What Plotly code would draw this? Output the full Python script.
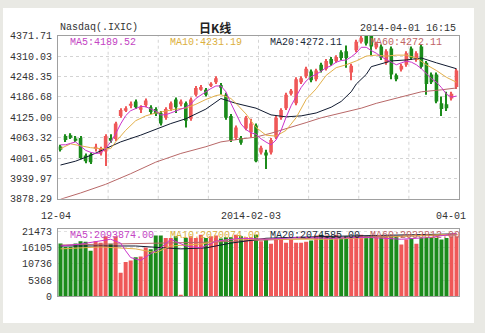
import plotly.graph_objects as go

# ---------------- data ----------------
opens = [4036.8, 4068.0, 4070.9, 4060.7, 4062.2, 4009.6, 4012.5, 4030.1, 4015.5, 4021.3,
         4062.2, 4059.3, 4129.3, 4146.9, 4161.5, 4173.1, 4149.8, 4161.5, 4155.6, 4149.8,
         4138.1, 4123.5, 4149.8, 4179.0, 4164.4, 4167.3, 4120.6, 4193.6, 4211.1, 4208.2,
         4222.8, 4231.5, 4222.8, 4193.6, 4129.3, 4062.2, 4062.2, 4091.4, 4079.7, 4100.1,
         4018.4, 4018.4, 4018.4, 4065.1, 4123.5, 4152.7, 4196.5, 4167.3, 4231.5, 4249.1,
         4263.7, 4240.3, 4284.1, 4272.4, 4301.6, 4295.8, 4322.1, 4325.0, 4260.8, 4327.9,
         4354.2, 4371.7, 4371.7, 4336.7, 4339.6, 4290.0, 4333.7, 4252.0, 4269.5, 4284.1,
         4333.7, 4298.7, 4339.6, 4290.0, 4254.9, 4254.9, 4167.3, 4164.4, 4181.9, 4216.9]
closes = [4027.1, 4056.3, 4065.1, 4056.3, 4000.9, 3992.1, 3989.2, 4035.9, 4030.1, 4068.0,
          4056.3, 4106.0, 4146.9, 4152.7, 4165.8, 4155.6, 4155.6, 4176.1, 4141.0, 4135.2,
          4106.0, 4149.8, 4167.3, 4155.6, 4173.1, 4114.7, 4179.0, 4214.0, 4216.9, 4193.6,
          4225.7, 4243.2, 4216.9, 4123.5, 4056.3, 4094.3, 4047.6, 4123.5, 4106.0, 3992.1,
          4033.0, 4009.6, 4056.3, 4123.5, 4146.9, 4193.6, 4205.3, 4240.3, 4243.2, 4272.4,
          4237.4, 4266.6, 4266.6, 4295.8, 4287.0, 4307.5, 4304.6, 4304.6, 4281.2, 4354.2,
          4365.9, 4348.3, 4339.6, 4348.3, 4304.6, 4325.0, 4254.9, 4240.3, 4281.2, 4319.1,
          4304.6, 4319.1, 4278.3, 4225.7, 4231.5, 4173.1, 4149.8, 4152.7, 4196.5, 4266.6]
highs = [4041.7, 4073.9, 4076.8, 4068.0, 4068.0, 4015.5, 4018.4, 4044.7, 4035.9, 4073.9,
         4073.9, 4111.8, 4152.7, 4158.5, 4173.1, 4179.0, 4161.5, 4181.9, 4161.5, 4155.6,
         4143.9, 4155.6, 4173.1, 4184.8, 4179.0, 4173.1, 4184.8, 4219.9, 4222.8, 4214.0,
         4231.5, 4249.1, 4228.6, 4199.4, 4135.2, 4100.1, 4068.0, 4129.3, 4120.6, 4106.0,
         4038.8, 4027.1, 4062.2, 4129.3, 4152.7, 4199.4, 4211.1, 4246.2, 4249.1, 4278.3,
         4269.5, 4272.4, 4290.0, 4301.6, 4307.5, 4313.3, 4327.9, 4342.5, 4287.0, 4360.0,
         4371.7, 4377.0, 4377.0, 4354.2, 4345.4, 4330.8, 4339.6, 4257.8, 4287.0, 4325.0,
         4339.6, 4325.0, 4345.4, 4295.8, 4260.8, 4260.8, 4187.7, 4202.3, 4202.3, 4272.4]
lows = [4021.3, 4050.5, 4059.3, 4050.5, 3997.9, 3986.2, 3983.3, 4021.3, 4009.6, 3977.5,
        4047.6, 4053.4, 4123.5, 4141.0, 4152.7, 4149.8, 4138.1, 4155.6, 4135.2, 4129.3,
        4100.1, 4117.7, 4143.9, 4138.1, 4158.5, 4094.3, 4114.7, 4187.7, 4205.3, 4187.7,
        4216.9, 4225.7, 4193.6, 4117.7, 4050.5, 4056.3, 4041.7, 4085.5, 4065.1, 3989.2,
        4012.5, 3968.7, 4012.5, 4059.3, 4117.7, 4146.9, 4190.7, 4161.5, 4225.7, 4243.2,
        4231.5, 4234.5, 4260.8, 4266.6, 4281.2, 4290.0, 4298.7, 4275.4, 4237.4, 4322.1,
        4348.3, 4342.5, 4313.3, 4330.8, 4298.7, 4284.1, 4240.3, 4234.5, 4263.7, 4278.3,
        4298.7, 4292.9, 4272.4, 4193.6, 4225.7, 4167.3, 4129.3, 4143.9, 4176.1, 4211.1]
volumes = [17571, 16393, 16393, 17571, 18321, 18107, 15107, 18321, 17786, 19929,
           17464, 19929, 7821, 11357, 11893, 12964, 13179, 16179, 15643, 20250,
           20250, 19393, 19393, 19929, 214, 19393, 19929, 19393, 20464, 19393,
           19929, 20250, 19179, 19607, 19607, 20464, 19929, 19607, 19607, 20464,
           18321, 18857, 17464, 19393, 19393, 17786, 18857, 17786, 17786, 18107,
           18536, 20250, 20464, 20250, 19929, 20464, 19393, 19929, 19607, 19929,
           20464, 19929, 20250, 19929, 20250, 19929, 19929, 19929, 17250, 18857,
           19393, 17464, 19393, 19393, 19393, 19393, 18857, 19393, 19929, 19929]

# moving-average lines (candle index, value)
ma5_idx = list(range(80))
ma5_val = [4041.7, 4041.7, 4046, 4050.5, 4038, 4025, 4019, 4015.5, 4017, 4030,
           4050, 4075, 4105, 4130, 4145, 4152.7, 4158, 4157, 4150, 4143.9,
           4132, 4133, 4138.1, 4145, 4149.8, 4155, 4165, 4181.9, 4193, 4202.3,
           4212, 4219.9, 4219.9, 4202.3, 4167.3, 4135.2, 4105, 4088, 4078, 4073.9,
           4060, 4050, 4041.7, 4056.3, 4085, 4125, 4160, 4187.7, 4215, 4235,
           4248, 4254.9, 4265, 4275, 4281.2, 4292, 4297, 4298.7, 4308, 4320,
           4337, 4337, 4327, 4319.1, 4308, 4300, 4292, 4284.1, 4290, 4295,
           4292, 4284.1, 4272, 4258, 4242, 4231.5, 4215, 4195, 4186, 4189.5]
ma10_idx = [0, 2, 4, 6, 8, 10, 11, 13, 15, 17, 19, 21, 23, 25, 27, 29, 31, 32, 34, 35,
            37, 39, 41, 43, 45, 47, 49, 51, 53, 55, 57, 59, 61, 63, 65, 67, 69, 71, 73,
            75, 77, 79]
ma10_val = [4030.0, 4044.7, 4038.8, 4033.0, 4030.1, 4030.1, 4050.5, 4085.5, 4114.7, 4129.3,
            4138.1, 4143.9, 4149.8, 4152.7, 4164.4, 4179.0, 4190.7, 4193.6, 4181.9, 4167.3,
            4135.2, 4094.3, 4070.9, 4068.0, 4085.5, 4123.5, 4179.0, 4211.1, 4252.0, 4275.4,
            4284.1, 4295.8, 4310.4, 4313.3, 4310.4, 4313.3, 4313.3, 4304.6, 4284.1, 4266.6,
            4246.1, 4231.2]
ma20_idx = [0, 3, 6, 9, 12, 16, 19, 22, 25, 29, 32, 35, 39, 42, 45, 48, 51, 54, 56, 58,
            59, 61, 62, 66, 69, 72, 75, 79]
ma20_val = [3980.4, 3992.1, 4009.6, 4030.1, 4050.5, 4071.0, 4088.5, 4106.0, 4120.6, 4149.8,
            4181.9, 4167.3, 4152.7, 4132.3, 4126.4, 4129.3, 4138.1, 4155.6, 4173.1, 4202.3,
            4225.7, 4254.9, 4278.3, 4295.8, 4298.7, 4304.6, 4290.0, 4272.1]
ma60_idx = [0, 4, 9, 14, 19, 24, 29, 32, 36, 39, 42, 46, 49, 52, 56, 60, 63, 66, 69, 72,
            76, 79]
ma60_val = [3876.8, 3895.8, 3922.0, 3954.2, 3989.2, 4015.5, 4035.9, 4050.5, 4059.3, 4065.1,
            4076.8, 4094.3, 4108.9, 4123.5, 4138.1, 4152.7, 4167.3, 4179.0, 4190.7, 4202.3,
            4208.2, 4214.0]

vma5_idx = [0, 4, 10, 12, 13, 14, 16, 18, 20, 22, 25, 28, 31, 36, 41, 48, 54, 61, 68, 74, 79]
vma5_val = [16714, 17357, 18964, 17679, 15107, 12857, 11893, 14143, 16071, 18964, 16714,
            16071, 18321, 19286, 18964, 19607, 19286, 19607, 18964, 19607, 20939]
vma10_idx = [0, 8, 15, 19, 22, 28, 34, 54, 79]
vma10_val = [15750, 16393, 15750, 14464, 16714, 17357, 18964, 18964, 20701]
vma20_idx = [0, 15, 24, 29, 34, 41, 54, 79]
vma20_val = [16714, 16714, 15750, 16071, 17679, 19286, 19929, 20746]
vma60_idx = [0, 30, 55, 79]
vma60_val = [17036, 18000, 19600, 20338]

price_ticks = [3878.29, 3939.97, 4001.65, 4063.32, 4125.00, 4186.68, 4248.35, 4310.03, 4371.71]
vol_ticks = [0, 5368, 10736, 16105, 21473]
date_tick_idx = [0, 39, 79]
date_tick_text = ["12-04", "2014-02-03", "04-01"]

title_left = "Nasdaq(.IXIC)"
title_mid = "日K线"
title_right = "2014-04-01 16:15"
price_legend = ["MA5:4189.52", "MA10:4231.19", "MA20:4272.11", "MA60:4272.11"]
vol_legend = ["MA5:2093874.00", "MA10:2070074.00", "MA20:2074585.00", "MA60:2033812.00"]

# ---------------- styling ----------------
W, H = 485, 333
RED = "#ef5858"
GREEN = "#1b8b1b"
MA_COLORS = ["#cc33cc", "#e3b04a", "#101a30", "#b86868"]
LEGEND_COLORS = ["#c444c4", "#dcb040", "#1a2a3a", "#c06464"]
FONT = "Liberation Mono, DejaVu Sans Mono, monospace"
TXT = "#333333"


def px(x):
    return x / W


def py(y):
    return 1 - y / H


idx = list(range(len(closes)))
colors = [RED if c >= o else GREEN for o, c in zip(opens, closes)]

fig = go.Figure()

# wicks
fig.add_trace(go.Bar(x=idx, base=lows, y=[h - l for h, l in zip(highs, lows)],
                     width=0.22, marker=dict(color=colors, line_width=0),
                     xaxis="x", yaxis="y", hoverinfo="skip"))
# bodies
fig.add_trace(go.Bar(x=idx, base=[min(o, c) for o, c in zip(opens, closes)],
                     y=[max(abs(c - o), 2.5) for o, c in zip(opens, closes)],
                     width=0.72, marker=dict(color=colors, line_width=0),
                     xaxis="x", yaxis="y", hoverinfo="skip"))

for (xi, yv), col in zip([(ma60_idx, ma60_val), (ma20_idx, ma20_val),
                          (ma10_idx, ma10_val), (ma5_idx, ma5_val)],
                         [MA_COLORS[3], MA_COLORS[2], MA_COLORS[1], MA_COLORS[0]]):
    fig.add_trace(go.Scatter(x=xi, y=yv, mode="lines", line=dict(color=col, width=1),
                             xaxis="x", yaxis="y", hoverinfo="skip"))

# volume
fig.add_trace(go.Bar(x=idx, y=volumes, width=0.8, marker=dict(color=colors, line_width=0),
                     xaxis="x2", yaxis="y2", hoverinfo="skip"))
for (xi, yv), col in zip([(vma60_idx, vma60_val), (vma20_idx, vma20_val),
                          (vma10_idx, vma10_val), (vma5_idx, vma5_val)],
                         [MA_COLORS[3], MA_COLORS[2], MA_COLORS[1], MA_COLORS[0]]):
    fig.add_trace(go.Scatter(x=xi, y=yv, mode="lines", line=dict(color=col, width=1),
                             xaxis="x2", yaxis="y2", hoverinfo="skip"))

xdom = [px(58), px(459)]
axis_common = dict(showline=True, mirror=True, linecolor="#a0a0a0", linewidth=1,
                   zeroline=False)

shapes = [dict(type="rect", xref="paper", yref="paper", x0=px(3), x1=px(474),
               y0=py(330), y1=py(3), fillcolor="white", line_width=0, layer="below")]
for k in range(1, 8):
    shapes.append(dict(type="line", xref="x domain", yref="y domain", x0=k / 8, x1=k / 8,
                       y0=0, y1=1, line=dict(color="#d4d4d4", width=1, dash="3px,3px"),
                       layer="below"))

annotations = [
    dict(text=title_left, x=px(58), y=py(23), xanchor="left", yanchor="middle",
         font=dict(family=FONT, size=10, color=TXT)),
    dict(text="<b>" + title_mid + "</b>", x=px(215), y=py(23), xanchor="center", yanchor="middle",
         font=dict(family="Noto Sans CJK SC", size=12, color="#222222")),
    dict(text=title_right, x=px(458), y=py(24), xanchor="right", yanchor="middle",
         font=dict(family=FONT, size=10, color=TXT)),
]
for k, (t, c) in enumerate(zip(price_legend, LEGEND_COLORS)):
    annotations.append(dict(text=t, x=px(68 + 100 * k), y=py(39), xanchor="left",
                            yanchor="middle", font=dict(family=FONT, size=10, color=c)))
for k, (t, c) in enumerate(zip(vol_legend, LEGEND_COLORS)):
    annotations.append(dict(text=t, x=px(68 + 100 * k), y=py(239), xanchor="left",
                            yanchor="middle", font=dict(family=FONT, size=10, color=c)))
for i, t in zip(date_tick_idx, date_tick_text):
    annotations.append(dict(text=t, x=i, xref="x", y=py(219), yref="paper", xanchor="center",
                            yanchor="middle", xshift=-5, font=dict(family=FONT, size=10, color=TXT)))
for a in annotations:
    a.setdefault("xref", "paper")
    a.setdefault("yref", "paper")
    a["showarrow"] = False

fig.update_layout(
    width=W, height=H, margin=dict(l=0, r=0, t=0, b=0),
    paper_bgcolor="#e9e9e4", plot_bgcolor="white",
    showlegend=False, barmode="overlay", hovermode=False,
    xaxis=dict(domain=xdom, range=[-0.5, 79.5], anchor="y", showticklabels=False,
               showgrid=False, ticks="", **axis_common),
    yaxis=dict(domain=[py(201), py(32)], range=[price_ticks[0], price_ticks[-1]],
               anchor="x", tickvals=price_ticks, ticktext=["%.2f" % v for v in price_ticks],
               showgrid=True, gridcolor="#d4d4d4", griddash="3px,3px", gridwidth=1,
               ticks="outside", ticklen=3, tickcolor="rgba(0,0,0,0)",
               tickfont=dict(family=FONT, size=10, color=TXT), **axis_common),
    xaxis2=dict(domain=xdom, range=[-0.5, 79.5], anchor="y2", showticklabels=False,
                showgrid=False, ticks="", **axis_common),
    yaxis2=dict(domain=[py(302), py(232)], range=[0, 22500], anchor="x2",
                tickvals=vol_ticks, ticktext=[str(v) for v in vol_ticks],
                showgrid=True, gridcolor="#e0e0e0", griddash="3px,3px", gridwidth=1,
                ticks="outside", ticklen=3, tickcolor="rgba(0,0,0,0)",
                tickfont=dict(family=FONT, size=10, color=TXT), **axis_common),
    shapes=shapes, annotations=annotations,
)

fig.write_html("out.html")
